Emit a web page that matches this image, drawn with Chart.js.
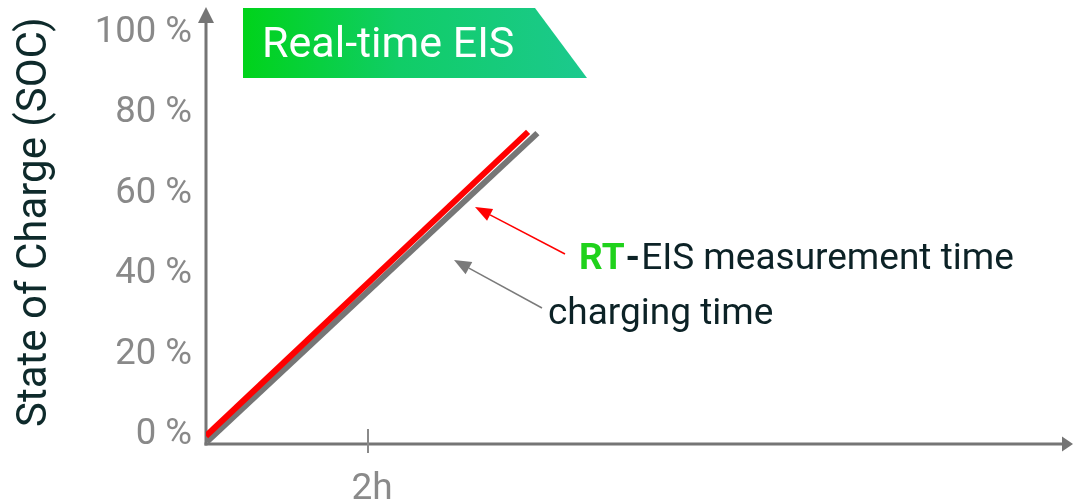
<!DOCTYPE html>
<html><head><meta charset="utf-8">
<script src="https://cdn.jsdelivr.net/npm/chart.js@4.4.1/dist/chart.umd.min.js"></script>
<style>html,body{margin:0;padding:0;background:#fff;overflow:hidden}canvas{display:block}</style>
</head><body>
<canvas id="c" width="1073" height="503"></canvas>
<script>
// ---- data ----
const yTickValues = [0, 20, 40, 60, 80, 100];
const yTickLabels = ['0 %', '20 %', '40 %', '60 %', '80 %', '100 %'];
const xTickValues = [2];
const xTickLabels = ['2h'];
const chargingTimeX = [0.01, 4.09];
const chargingTimeY = [-1.7, 75.1];
const rtEisTimeX = [0, 3.975];
const rtEisTimeY = [-0.25, 75.4];
const boxTitle = 'Real-time EIS';
const yAxisTitle = 'State of Charge (SOC)';
const labelRT = 'RT';
const labelDash = '-';
const labelRest = 'EIS measurement time';
const labelCharging = 'charging time';

const FONT = 'Roboto';
const AXIS = '#757575';

function arrow(ctx, x1, y1, x2, y2, color, lw, len, hw) {
  const a = Math.atan2(y2 - y1, x2 - x1);
  const bx = x2 - len * Math.cos(a), by = y2 - len * Math.sin(a);
  ctx.save();
  ctx.strokeStyle = color; ctx.fillStyle = color; ctx.lineWidth = lw;
  ctx.beginPath(); ctx.moveTo(x1, y1); ctx.lineTo(bx, by); ctx.stroke();
  ctx.beginPath();
  ctx.moveTo(x2, y2);
  ctx.lineTo(bx + hw * Math.sin(a), by - hw * Math.cos(a));
  ctx.lineTo(bx - hw * Math.sin(a), by + hw * Math.cos(a));
  ctx.closePath(); ctx.fill();
  ctx.restore();
}

const decor = {
  id: 'decor',
  beforeDatasetsDraw(chart) {
    const {ctx, chartArea: ca, scales: {x}} = chart;
    ctx.save();
    ctx.strokeStyle = AXIS; ctx.fillStyle = AXIS; ctx.lineWidth = 3;
    // y axis
    ctx.beginPath(); ctx.moveTo(ca.left, ca.bottom + 1.5); ctx.lineTo(ca.left, 22); ctx.stroke();
    ctx.beginPath(); ctx.moveTo(ca.left, 7); ctx.lineTo(ca.left - 8, 23); ctx.lineTo(ca.left + 8, 23); ctx.closePath(); ctx.fill();
    // x axis
    ctx.beginPath(); ctx.moveTo(ca.left - 1.5, ca.bottom); ctx.lineTo(1063, ca.bottom); ctx.stroke();
    ctx.beginPath(); ctx.moveTo(1073, ca.bottom); ctx.lineTo(1062, ca.bottom - 7.5); ctx.lineTo(1062, ca.bottom + 7.5); ctx.closePath(); ctx.fill();
    // x tick marks
    ctx.strokeStyle = '#8a8a8a'; ctx.lineWidth = 2;
    xTickValues.forEach(v => {
      const px = Math.round(x.getPixelForValue(v));
      ctx.beginPath(); ctx.moveTo(px, ca.bottom - 15); ctx.lineTo(px, ca.bottom + 9); ctx.stroke();
    });
    ctx.restore();
  },
  afterDraw(chart) {
    const {ctx} = chart;
    ctx.save();
    // title box
    const g = ctx.createLinearGradient(243, 0, 587, 0);
    g.addColorStop(0, '#00d31a');
    g.addColorStop(0.45, '#10cd66');
    g.addColorStop(1, '#1cc98e');
    ctx.fillStyle = g;
    ctx.beginPath();
    ctx.moveTo(243, 8); ctx.lineTo(535, 8); ctx.lineTo(587, 78); ctx.lineTo(243, 78); ctx.closePath(); ctx.fill();
    ctx.fillStyle = '#ffffff';
    ctx.font = '43px ' + FONT;
    ctx.textBaseline = 'alphabetic'; ctx.textAlign = 'left';
    ctx.fillText(boxTitle, 262, 57);

    // annotation arrows
    arrow(ctx, 565, 254, 475, 207, '#ff0000', 1.5, 17, 6.5);
    arrow(ctx, 542, 308, 454, 260, '#7a7a7a', 1.5, 17, 7);

    // annotation texts
    let tx = 579;
    ctx.font = 'bold 37px ' + FONT;
    ctx.fillStyle = '#20d21c';
    ctx.fillText(labelRT, tx, 269);
    tx += ctx.measureText(labelRT).width + 1;
    ctx.fillStyle = '#0c2226';
    ctx.fillText(labelDash, tx, 269);
    tx += ctx.measureText(labelDash).width + 1;
    ctx.font = '37px ' + FONT;
    ctx.fillText(labelRest, tx, 269);
    ctx.fillText(labelCharging, 548, 324);
    ctx.restore();
  }
};

new Chart(document.getElementById('c'), {
  type: 'line',
  data: {
    datasets: [
      {
        label: 'RT-EIS measurement time',
        data: rtEisTimeX.map((x, i) => ({x, y: rtEisTimeY[i]})),
        borderColor: '#ff0000', borderWidth: 6, pointRadius: 0, fill: false, tension: 0
      },
      {
        label: 'charging time',
        data: chargingTimeX.map((x, i) => ({x, y: chargingTimeY[i]})),
        borderColor: '#767676', borderWidth: 6, pointRadius: 0, fill: false, tension: 0
      }
    ]
  },
  options: {
    responsive: false,
    animation: false,
    devicePixelRatio: 1,
    layout: {padding: 0},
    plugins: {legend: {display: false}, tooltip: {enabled: false}},
    elements: {line: {borderCapStyle: 'butt'}},
    scales: {
      x: {
        type: 'linear', min: 0, max: 10.7,
        grid: {display: false, drawTicks: false},
        border: {display: false},
        afterBuildTicks: s => { s.ticks = xTickValues.map(v => ({value: v})); },
        ticks: {
          autoSkip: false, maxRotation: 0, padding: 24, labelOffset: 4,
          color: '#8a8a8a', font: {family: FONT, size: 37},
          callback: v => xTickLabels[xTickValues.indexOf(v)]
        },
        afterFit: s => { s.height = 59; s.paddingLeft = 0; s.paddingRight = 0; }
      },
      y: {
        type: 'linear', min: -2.24, max: 108.2,
        grid: {display: false, drawTicks: false},
        border: {display: false},
        afterBuildTicks: s => { s.ticks = yTickValues.map(v => ({value: v})); },
        ticks: {
          autoSkip: false, padding: 14,
          color: '#898989', font: {family: FONT, size: 36.5},
          callback: v => yTickLabels[yTickValues.indexOf(v)]
        },
        title: {
          display: true, text: yAxisTitle, color: '#0e2a2b',
          font: {family: FONT, size: 42}, padding: {top: 10, bottom: 0}
        },
        afterFit: s => { s.width = 206; s.paddingTop = 0; s.paddingBottom = 0; }
      }
    }
  },
  plugins: [decor]
});
</script>
</body></html>
